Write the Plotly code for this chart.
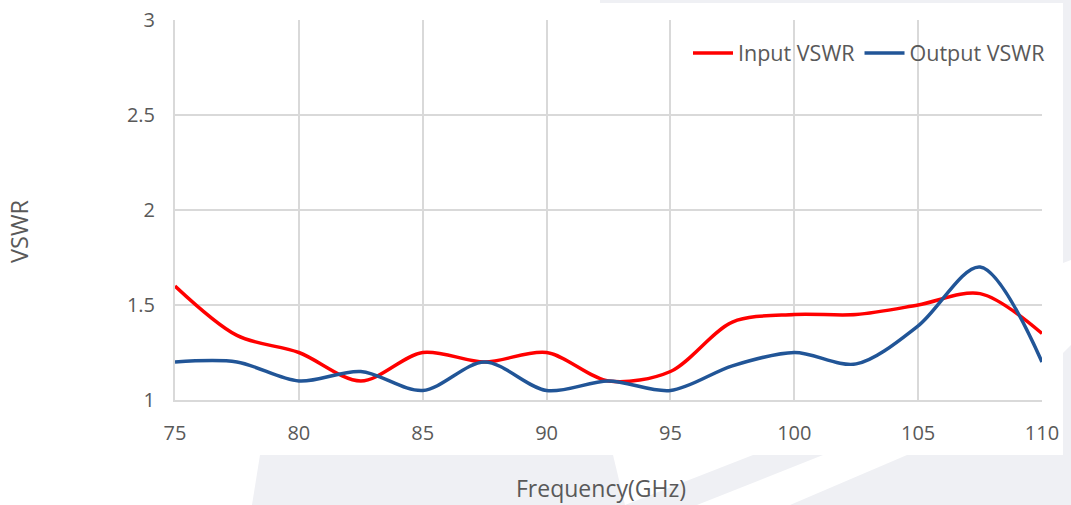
import plotly.graph_objects as go

# ---- data ----
freq = [75, 77.5, 80, 82.5, 85, 87.5, 90, 92.5, 95, 97.5, 100, 102.5, 105, 107.5, 110]
input_vswr = [1.60, 1.34, 1.25, 1.10, 1.25, 1.20, 1.25, 1.10, 1.15, 1.41, 1.45, 1.45, 1.50, 1.56, 1.35]
output_vswr = [1.20, 1.20, 1.10, 1.15, 1.05, 1.20, 1.05, 1.10, 1.05, 1.18, 1.25, 1.19, 1.39, 1.70, 1.20]
x_ticks = [75, 80, 85, 90, 95, 100, 105, 110]
y_ticks = [1, 1.5, 2, 2.5, 3]

W, H = 1071, 505
ML, MR, MT, MB = 175, 29, 20, 105
PW, PH = W - ML - MR, H - MT - MB

def px(x):
    return (x - ML) / PW

def py(y):
    return (H - MB - y) / PH

FONT = "Open Sans"
TXT = "#595959"
GRID = "#d9d9d9"
WM = "#eff0f4"

fig = go.Figure()
fig.add_trace(go.Scatter(x=freq, y=input_vswr, name="Input VSWR", mode="lines",
                         line=dict(color="#ff0000", width=3.5, shape="spline", smoothing=0.9)))
fig.add_trace(go.Scatter(x=freq, y=output_vswr, name="Output VSWR", mode="lines",
                         line=dict(color="#215597", width=3.5, shape="spline", smoothing=0.9)))

def poly(pts):
    d = "M " + " L ".join(f"{px(a):.5f},{py(b):.5f}" for a, b in pts) + " Z"
    return dict(type="path", xref="paper", yref="paper", path=d,
                fillcolor=WM, line=dict(width=0), layer="below")

shapes = [
    poly([(260, 455), (613, 455), (625, 505), (252, 505)]),
    poly([(753, 455), (823, 455), (697, 505), (625, 505)]),
    poly([(907, 455), (1071, 455), (1071, 505), (790, 505)]),
    poly([(1063, 0), (1071, 0), (1071, 260), (1063, 263)]),
    poly([(1063, 353), (1071, 345), (1071, 455), (1063, 455)]),
    poly([(600, 0), (1071, 0), (1071, 3), (600, 3)]),
]

fig.update_layout(
    width=W, height=H, autosize=False,
    margin=dict(l=ML, r=MR, t=MT, b=MB, pad=0, autoexpand=False),
    paper_bgcolor="white", plot_bgcolor="white",
    font=dict(family=FONT, color=TXT, size=20),
    shapes=shapes,
    showlegend=True,
    legend=dict(orientation="h", x=px(1050), xanchor="right", y=py(53), yanchor="middle",
                bgcolor="rgba(0,0,0,0)", font=dict(family=FONT, size=21.5, color=TXT),
                itemwidth=40, tracegroupgap=0),
    xaxis=dict(range=[75, 110], tickvals=x_ticks, showgrid=True, gridcolor=GRID, gridwidth=1.5,
               showline=True, linecolor=GRID, linewidth=2, zeroline=False, ticks="",
               automargin=False,
               ticklabelstandoff=14, tickfont=dict(family=FONT, size=20, color=TXT)),
    yaxis=dict(range=[1, 3], tickvals=y_ticks, showgrid=True, gridcolor=GRID, gridwidth=1.5,
               showline=True, linecolor=GRID, linewidth=2, zeroline=False, ticks="",
               automargin=False,
               ticklabelstandoff=14, tickfont=dict(family=FONT, size=20, color=TXT)),
    annotations=[
        dict(text="Frequency(GHz)", xref="paper", yref="paper", x=px(601), y=py(488),
             showarrow=False, xanchor="center", yanchor="middle",
             font=dict(family=FONT, size=23, color=TXT)),
        dict(text="VSWR", xref="paper", yref="paper", x=px(19), y=py(231),
             showarrow=False, xanchor="center", yanchor="middle", textangle=-90,
             font=dict(family=FONT, size=23.5, color=TXT)),
    ],
)

fig.write_html("out.html", config={"displayModeBar": False},
               post_script="document.body.style.margin='0';document.body.style.overflow='hidden';")
